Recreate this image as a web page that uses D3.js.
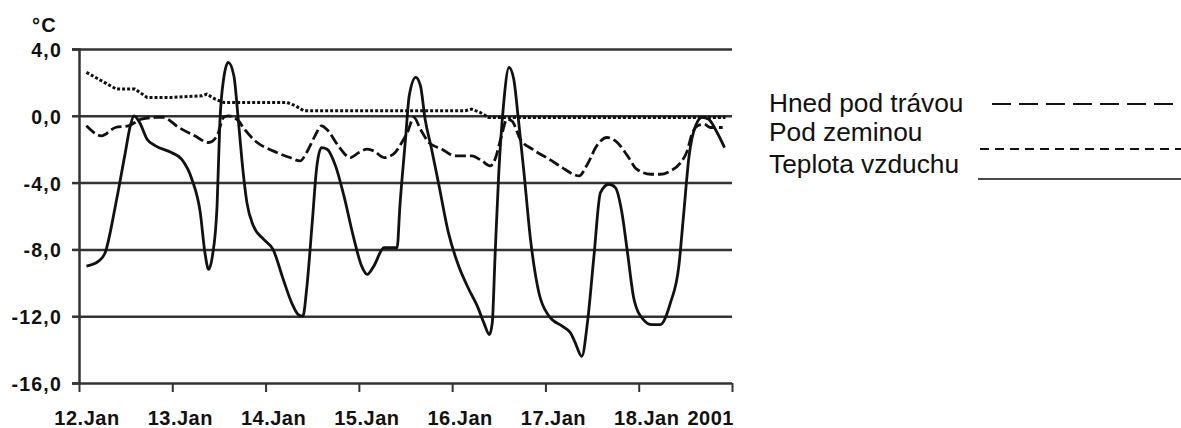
<!DOCTYPE html>
<html>
<head>
<meta charset="utf-8">
<script src="https://cdn.jsdelivr.net/npm/d3@7"></script>
<style>
  body { margin: 0; background: #fff; }
  svg text { font-family: "Liberation Sans", Arial, sans-serif; fill: #111; }
  .tick-label { font-weight: bold; font-size: 19.5px; letter-spacing: 1.2px; }
  .legend-label { font-size: 26.3px; }
</style>
</head>
<body>
<div id="chart"></div>
<script>
// data (days after 12.Jan 00:00, °C)
const airDays = [0.08,0.21,0.28,0.39,0.49,0.55,0.59,0.65,0.73,0.82,0.99,1.10,1.21,1.30,1.35,1.39,1.43,1.48,1.51,1.55,1.60,1.66,1.71,1.76,1.80,1.87,1.98,2.08,2.19,2.28,2.35,2.40,2.44,2.50,2.55,2.60,2.66,2.75,2.84,2.94,3.03,3.09,3.16,3.27,3.41,3.44,3.50,3.54,3.61,3.66,3.71,3.78,3.86,3.96,4.07,4.18,4.27,4.34,4.40,4.43,4.46,4.50,4.55,4.61,4.66,4.71,4.77,4.84,4.93,5.04,5.18,5.27,5.32,5.39,5.45,5.52,5.59,5.68,5.75,5.82,5.88,5.95,6.05,6.14,6.23,6.34,6.43,6.48,6.54,6.61,6.68,6.75,6.84,6.92];
const airTemp = [-9.0,-8.7,-8.2,-5.4,-2.4,-0.6,0.0,-0.4,-1.4,-1.8,-2.2,-2.6,-3.8,-5.8,-8.2,-9.2,-8.4,-5.4,-0.4,2.2,3.2,2.4,-0.4,-3.4,-5.2,-6.6,-7.4,-8.0,-9.8,-11.2,-11.9,-12.0,-10.4,-6.4,-3.0,-1.9,-2.0,-3.0,-4.8,-7.2,-9.0,-9.5,-9.0,-7.9,-7.9,-5.4,-1.4,1.2,2.3,1.8,-0.2,-2.0,-4.2,-7.0,-9.0,-10.4,-11.4,-12.4,-13.1,-12.4,-8.4,-3.4,0.6,2.9,2.2,-0.2,-3.4,-7.4,-10.6,-12.0,-12.6,-13.0,-13.6,-14.4,-12.4,-8.4,-4.6,-4.1,-4.3,-5.8,-8.2,-11.0,-12.2,-12.5,-12.5,-11.2,-9.0,-6.0,-2.4,-0.6,-0.1,-0.2,-1.0,-1.9];

const grassDays = [0.08,0.24,0.39,0.53,0.67,0.82,0.90,1.07,1.24,1.39,1.48,1.55,1.60,1.71,1.76,1.91,2.08,2.26,2.37,2.44,2.53,2.60,2.67,2.78,2.91,3.00,3.09,3.16,3.27,3.37,3.46,3.52,3.59,3.66,3.75,3.89,4.03,4.21,4.32,4.41,4.46,4.52,4.59,4.64,4.73,4.86,5.04,5.18,5.30,5.36,5.45,5.55,5.66,5.77,5.88,5.98,6.13,6.23,6.34,6.45,6.52,6.57,6.63,6.70,6.77,6.90];
const grassTemp = [-0.6,-1.2,-0.7,-0.6,-0.2,-0.1,-0.1,-0.7,-1.2,-1.6,-1.2,-0.1,0.0,-0.3,-0.7,-1.6,-2.1,-2.5,-2.7,-2.2,-1.2,-0.6,-0.9,-1.8,-2.5,-2.2,-2.0,-2.1,-2.5,-2.3,-1.6,-1.0,-0.1,-0.8,-1.6,-2.0,-2.4,-2.4,-2.7,-3.0,-2.6,-1.4,-0.2,-0.3,-1.4,-2.0,-2.6,-3.1,-3.5,-3.6,-2.9,-1.8,-1.3,-1.6,-2.4,-3.2,-3.5,-3.5,-3.3,-2.8,-2.1,-1.1,-0.6,-0.5,-0.7,-0.7];

const soilDays = [0.08,0.24,0.40,0.60,0.73,0.99,1.32,1.37,1.46,1.55,2.23,2.32,2.41,3.51,4.14,4.21,4.30,4.39,4.46,6.93];
const soilTemp = [2.6,2.1,1.6,1.6,1.1,1.1,1.2,1.3,1.0,0.8,0.8,0.6,0.3,0.3,0.3,0.4,0.2,-0.1,-0.1,-0.1];

const yTicks = [4, 0, -4, -8, -12, -16];
const yTickLabels = ["4,0", "0,0", "-4,0", "-8,0", "-12,0", "-16,0"];
const xTickLabels = ["12.Jan", "13.Jan", "14.Jan", "15.Jan", "16.Jan", "17.Jan", "18.Jan"];
const yearLabel = "2001";
const unitLabel = "°C";
const legendNames = ["Hned pod trávou", "Pod zeminou", "Teplota vzduchu"];

const W = 1181, H = 428;
const plot = {left: 79, right: 732, top: 49, bottom: 383};
const start = new Date(2001, 0, 12), end = new Date(2001, 0, 19);
const dayMs = 24 * 3600 * 1000;
const toDate = d => new Date(start.getTime() + d * dayMs);

const svg = d3.select("#chart").append("svg")
    .attr("width", W).attr("height", H);

const x = d3.scaleTime().domain([start, end]).range([plot.left, plot.right]);
const y = d3.scaleLinear().domain([-16, 4]).range([plot.bottom, plot.top]);

// gridlines
svg.append("g")
    .attr("transform", `translate(${plot.left},0)`)
    .call(d3.axisLeft(y).tickValues(yTicks).tickSize(-(plot.right - plot.left)).tickFormat(""))
    .call(g => g.select(".domain").remove())
    .call(g => g.selectAll("line").attr("stroke", "#333").attr("stroke-width", 2.5));

// left axis with small ticks + labels
svg.append("g")
    .attr("transform", `translate(${plot.left},0)`)
    .call(d3.axisLeft(y).tickValues(yTicks).tickSize(7).tickPadding(10)
      .tickFormat((d, i) => yTickLabels[i]))
    .call(g => g.select(".domain").attr("stroke", "#333").attr("stroke-width", 2.5))
    .call(g => g.selectAll("line").attr("stroke", "#333").attr("stroke-width", 2.5))
    .call(g => g.selectAll("text").attr("class", "tick-label").attr("dy", "0.38em"));

// bottom ticks
svg.append("g")
    .attr("transform", `translate(0,${plot.bottom})`)
    .call(d3.axisBottom(x).ticks(d3.timeDay.every(1)).tickSize(9).tickFormat(""))
    .call(g => g.select(".domain").remove())
    .call(g => g.selectAll("line").attr("stroke", "#333").attr("stroke-width", 2));

// bottom labels
svg.append("g").selectAll("text")
  .data(xTickLabels)
  .join("text")
    .attr("class", "tick-label")
    .attr("x", (d, i) => x(toDate(i)) + 8)
    .attr("y", 425)
    .attr("text-anchor", "middle")
    .style("font-size", "20px")
    .style("letter-spacing", "0.5px")
    .text(d => d);

svg.append("text")
    .attr("class", "tick-label")
    .attr("x", x(end) + 2)
    .attr("y", 425)
    .attr("text-anchor", "end")
    .style("font-size", "20px")
    .style("letter-spacing", "0.5px")
    .text(yearLabel);

svg.append("text")
    .attr("class", "tick-label")
    .attr("x", 32).attr("y", 32)
    .style("font-size", "20px")
    .text(unitLabel);

// lines
const line = d3.line()
    .x(d => x(toDate(d[0])))
    .y(d => y(d[1]));

const series = [
  {days: soilDays, vals: soilTemp, dash: "3,2", width: 3, curve: d3.curveLinear},
  {days: grassDays, vals: grassTemp, dash: "11,4", width: 2.8, curve: d3.curveMonotoneX},
  {days: airDays, vals: airTemp, dash: null, width: 2.8, curve: d3.curveMonotoneX}
];

series.forEach(s => {
  svg.append("path")
      .datum(d3.zip(s.days, s.vals))
      .attr("fill", "none")
      .attr("stroke", "#111")
      .attr("stroke-width", s.width)
      .attr("stroke-dasharray", s.dash)
      .attr("stroke-linejoin", "round")
      .attr("d", line.curve(s.curve));
});

// legend
const legend = [
  {name: legendNames[0], ty: 112, ly: 104, x1: 992, dash: "19,8", w: 2},
  {name: legendNames[1], ty: 141, ly: 149, x1: 980, dash: "9,6", w: 2},
  {name: legendNames[2], ty: 173, ly: 179, x1: 978, dash: null, w: 1.3}
];
const lg = svg.append("g").selectAll("g").data(legend).join("g");
lg.append("text")
    .attr("class", "legend-label")
    .attr("x", 769).attr("y", d => d.ty)
    .text(d => d.name);
lg.append("line")
    .attr("x1", d => d.x1).attr("x2", W)
    .attr("y1", d => d.ly).attr("y2", d => d.ly)
    .attr("stroke", "#111")
    .attr("stroke-width", d => d.w)
    .attr("stroke-dasharray", d => d.dash);
</script>
</body>
</html>
